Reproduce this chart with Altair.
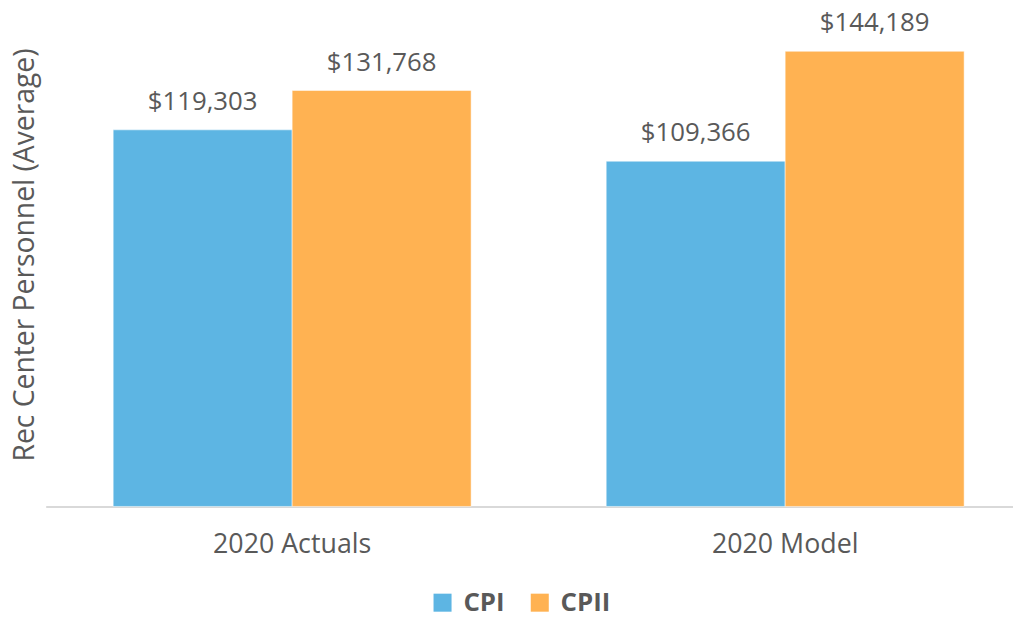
import altair as alt
import pandas as pd

categories = ["2020 Actuals", "2020 Actuals", "2020 Model", "2020 Model"]
series = ["CPI", "CPII", "CPI", "CPII"]
values = [119303, 131768, 109366, 144189]

df = pd.DataFrame({"category": categories, "series": series, "value": values})

FONT = "Open Sans"
GRAY = "#595959"
colors = ["#5DB5E3", "#FFB252"]

x = alt.X("category:N", title=None,
          sort=["2020 Actuals", "2020 Model"],
          scale=alt.Scale(paddingInner=0.274, paddingOuter=0.118, align=0.58),
          axis=alt.Axis(labelAngle=0, ticks=False, labelFontSize=27, labelFont=FONT,
                        labelColor=GRAY, labelPadding=25, domainColor="#D9D9D9",
                        domainWidth=2, grid=False))
xo = alt.XOffset("series:N", sort=["CPI", "CPII"], scale=alt.Scale(paddingInner=0, paddingOuter=0))
y = alt.Y("value:Q", scale=alt.Scale(domain=[0, 154000], nice=False),
          axis=alt.Axis(title="Rec Center Personnel (Average)", labels=False, ticks=False,
                        domain=False, grid=False, titleFontSize=28.5, titleFont=FONT,
                        titleFontWeight="normal", titleColor=GRAY, titleX=-21, titleY=236,
                        titleAngle=270, titleBaseline="middle", titleAlign="center"))

bars = alt.Chart(df).mark_bar(stroke="white", strokeWidth=0.5).encode(
    x=x, xOffset=xo, y=y,
    color=alt.Color("series:N", sort=["CPI", "CPII"],
                    scale=alt.Scale(domain=["CPI", "CPII"], range=colors),
                    legend=alt.Legend(title=None, orient="none", direction="horizontal",
                                      legendX=387, legendY=574, symbolType="square",
                                      symbolSize=330, symbolStrokeWidth=0,
                                      labelFontSize=26, labelFont=FONT, labelFontWeight="bold",
                                      labelColor=GRAY, columnPadding=22, labelOffset=8)),
)

labels = alt.Chart(df).mark_text(font=FONT, fontSize=26, color=GRAY, baseline="alphabetic",
                                 dy=-20).encode(
    x=x, xOffset=xo, y=y,
    text=alt.Text("value:Q", format="$,.0f"),
)

chart = alt.layer(bars, labels).properties(
    width=975, height=490,
    autosize=alt.AutoSizeParams(type="none"),
    padding={"left": 38, "top": 10, "right": 0, "bottom": 106},
).configure_view(stroke=None)

chart.save("out.html", embed_options={"renderer": "svg", "actions": False})
